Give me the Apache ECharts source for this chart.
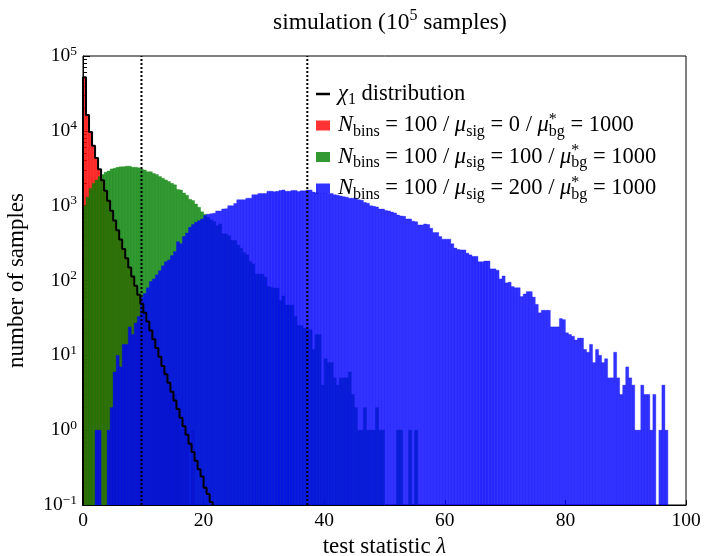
<!DOCTYPE html>
<html><head><meta charset="utf-8">
<script src="https://cdn.jsdelivr.net/npm/echarts@6/dist/echarts.min.js"></script>
<style>html,body{margin:0;padding:0;background:#fff}#c{width:704px;height:556px}</style>
</head><body><div id="c"></div>
<script>
// ---- data (histogram counts per bin of width 0.5, bins start at 0) ----
const BIN_WIDTH = 0.5;
const redCounts = [52100,16150,9700,6300,4380,3050,2170,1600,1150,860,640,465,355,262,200,148,115,83,66,48,38,27,22,17,12,10,7,6,4,3,3,2,1,1,1,0,1];
const greenCounts = [1000,1300,1700,2000,2200,2450,2600,2800,2900,3100,3170,3250,3300,3320,3370,3370,3270,3270,3200,3080,
 3000,2850,2850,2690,2600,2460,2330,2210,2100,1990,1900,1650,1620,1480,1380,1220,1170,1050,950,830,
 770,700,650,612,537,571,420,420,395,342,342,299,270,236,220,179,167,122,122,122,
 111,83,81,79,79,54,62,47,47,47,33,25,25,23,22,22,12,19,19,4,
 9,8,8,5,4,5,5,5,6,3,2,1,1,2,1,1,1,2,1,1,
 0,0,0,0,1,1,0,0,1,0,1];
const blueCounts = [0,0,0,0,1,1,0,0,1,2,6,10,7,14,14,24,19,27,33,59,
 67,80,97,105,119,135,157,178,188,215,243,330,310,386,430,515,560,600,630,665,
 740,770,780,790,850,850,905,910,1000,1000,1070,1200,1200,1200,1260,1260,1400,1400,1450,1450,
 1450,1560,1560,1540,1560,1600,1620,1560,1560,1600,1600,1550,1580,1580,1620,1620,1520,1480,1470,1470,
 1460,1450,1450,1400,1380,1350,1320,1300,1260,1260,1260,1200,1180,1100,1080,1000,980,960,900,900,
 860,850,820,800,750,730,720,665,665,620,610,553,553,570,560,500,437,437,386,357,
 357,357,309,271,260,256,256,232,220,210,210,178,178,182,182,143,143,137,105,115,
 93,95,83,80,80,61,66,71,71,60,48,37,40,40,40,24,24,24,31,30,
 20,19,18,16,17,17,12,11,14,8,12,10,8,9,5,5,11,5,3,4,
 7,5,4,1,1,4,3,3,1,3,0,1,4,1,0,0,0,0,0,0];
const chi1Expected = [52050,16220,9660,6340,4340,3063,2190,1587,1161,854,633,471,352,264,198,149,113,85,64.5,49,
 37.1,28.3,21.5,16.4,12.5,9.6,7.2,5.6,4.3,3.25,2.5,1.92,1.46,1.13,0.87,0.66,0.51,0.39,0.30,0.24,
 0.17,0.14,0.11,0.08,0.06];
const thresholds = [9.7, 37.2];

const FONT = 'Liberation Serif';
const legendLabels = {
  chi1: '{i|χ}{sub|1} distribution',
  red: '{i|N}{sub|bins} = 100 / {i|μ}{sub|sig} = 0 / {i|μ}{star|*}{sub|bg} = 1000',
  green: '{i|N}{sub|bins} = 100 / {i|μ}{sub|sig} = 100 / {i|μ}{star|*}{sub|bg} = 1000',
  blue: '{i|N}{sub|bins} = 100 / {i|μ}{sub|sig} = 200 / {i|μ}{star|*}{sub|bg} = 1000'
};

function binData(counts) {
  const out = [];
  counts.forEach((c, i) => { if (c > 0) out.push([i * BIN_WIDTH, (i + 1) * BIN_WIDTH, c]); });
  return out;
}
function histSeries(name, counts, color) {
  return {
    name, type: 'custom', data: binData(counts), encode: {x: [0, 1], y: 2},
    itemStyle: {color},
    clip: true,
    renderItem(params, api) {
      const top = api.coord([api.value(0), api.value(2)]);
      const bot = api.coord([api.value(1), 0.1]);
      return {type: 'rect', shape: {x: top[0], y: top[1], width: bot[0] - top[0], height: bot[1] - top[1]},
        style: {fill: color, stroke: color, lineWidth: 0.4}};
    }
  };
}
const stepData = [[0, 0.001]];
chi1Expected.forEach((v, i) => stepData.push([i * BIN_WIDTH, v]));
stepData.push([chi1Expected.length * BIN_WIDTH, chi1Expected[chi1Expected.length - 1]]);

const chart = echarts.init(document.getElementById('c'));
const LF = 22.5, SF = 16;
const rich = {
  i: {fontStyle: 'italic', fontFamily: FONT, fontSize: LF, color: '#000'},
  sub: {fontFamily: FONT, fontSize: SF, color: '#000', verticalAlign: 'bottom', lineHeight: 17},
  star: {fontFamily: FONT, fontSize: SF, color: '#000', verticalAlign: 'top', lineHeight: 16, width: 0}
};
chart.setOption({
  animation: false,
  title: {
    text: 'simulation (10{s|5} samples)', left: 268, top: 3,
    textStyle: {fontFamily: FONT, fontSize: 23.5, fontWeight: 'normal', color: '#000', lineHeight: 30,
      rich: {s: {fontFamily: FONT, fontSize: 16, color: '#000', verticalAlign: 'top', lineHeight: 16}}}
  },
  grid: {left: 83, right: 18, top: 56, bottom: 51, show: true, borderColor: '#000', borderWidth: 1,
         outerBoundsMode: 'none', containLabel: false},
  legend: {
    orient: 'vertical', left: 311, top: 75, itemWidth: 14, itemHeight: 10, itemGap: 3.5,
    data: [
      {name: 'chi1', icon: 'path://M0,0 L0.01,0 M0,3.8 L14,3.8 L14,6.2 L0,6.2 Z M14,10 L13.99,10'},
      {name: 'red', icon: 'rect'},
      {name: 'green', icon: 'rect'},
      {name: 'blue', icon: 'rect'}
    ],
    formatter: n => legendLabels[n],
    textStyle: {fontFamily: FONT, fontSize: LF, color: '#000', lineHeight: 28, padding: [0,0,0,3], rich}
  },
  xAxis: {
    type: 'value', min: 0, max: 100, interval: 20,
    name: 'test statistic {i|λ}', nameLocation: 'middle', nameGap: 28,
    nameTextStyle: {fontFamily: FONT, fontSize: 23, color: '#000', rich: {i: {fontStyle: 'italic', fontFamily: FONT, fontSize: 23, color: '#000'}}},
    axisLine: {lineStyle: {color: '#000', width: 1}},
    axisTick: {inside: true, length: 5, lineStyle: {color: '#000'}},
    axisLabel: {fontFamily: FONT, fontSize: 19.5, color: '#000', margin: 6},
    splitLine: {show: false}
  },
  yAxis: {
    type: 'log', logBase: 10, min: 0.1, max: 100000,
    name: 'number of samples', nameLocation: 'middle', nameGap: 55,
    nameTextStyle: {fontFamily: FONT, fontSize: 23, color: '#000'},
    axisLine: {lineStyle: {color: '#000', width: 1}},
    axisTick: {inside: true, length: 7, lineStyle: {color: '#000'}},
    minorTick: {show: true, splitNumber: 9, length: 4, lineStyle: {color: '#000'}},
    axisLabel: {
      margin: 6,
      formatter: v => {
        const e = Math.round(Math.log10(v));
        return '{b|10}{s|' + (e < 0 ? '\u2212' + (-e) : e) + '}';
      },
      rich: {
        b: {fontFamily: FONT, fontSize: 19.5, color: '#000', lineHeight: 24},
        s: {fontFamily: FONT, fontSize: 13.5, color: '#000', verticalAlign: 'top', lineHeight: 13}
      }
    },
    splitLine: {show: false}
  },
  series: [
    histSeries('red', redCounts, 'rgba(255,0,0,0.8)'),
    histSeries('green', greenCounts, 'rgba(0,128,0,0.8)'),
    histSeries('blue', blueCounts, 'rgba(0,0,255,0.8)'),
    {name: 'chi1', type: 'line', step: 'end', data: stepData, symbol: 'none', z: 5,
     lineStyle: {color: '#000', width: 2}, itemStyle: {color: '#000'}},
    ...thresholds.map(t => ({
      name: 'thr' + t, type: 'line', data: [[t, 0.1], [t, 100000]], symbol: 'none', z: 6,
      lineStyle: {color: '#000', width: 2, type: [2, 2]}
    }))
  ]
});
</script></body></html>
